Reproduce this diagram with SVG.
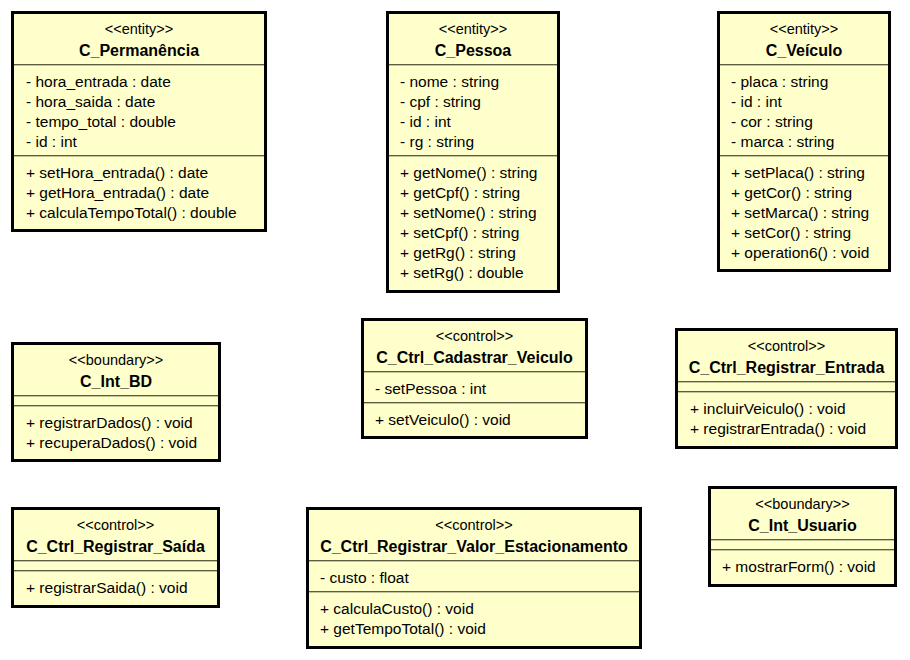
<svg xmlns="http://www.w3.org/2000/svg" width="910" height="660" viewBox="0 0 910 660">
<style>
.box{fill:#ffffcc;stroke:#000;stroke-width:3}
.sep{stroke:#5c5c40;stroke-width:1}
.sep2{stroke:#c4c49a;stroke-width:1}
.st{font-family:"Liberation Sans",Arial,sans-serif;font-size:14.5px;fill:#000;text-anchor:middle}
.nm{font-family:"Liberation Sans",Arial,sans-serif;font-size:16px;font-weight:bold;fill:#000;text-anchor:middle}
.mb{font-family:"Liberation Sans",Arial,sans-serif;font-size:15.5px;fill:#000}
</style>
<rect width="910" height="660" fill="#fff"/>
<g id="connectors"></g>

<g id="C_Permanencia">
<rect class="box" x="12.5" y="12.5" width="253" height="218"/>
<text class="st" x="139" y="34">&lt;&lt;entity&gt;&gt;</text>
<text class="nm" x="139" y="56">C_Permanência</text>
<line class="sep" x1="14" y1="64.5" x2="264" y2="64.5"/><line class="sep2" x1="14" y1="65.5" x2="264" y2="65.5"/>
<text class="mb" x="26" y="87">- hora_entrada : date</text>
<text class="mb" x="26" y="107">- hora_saida : date</text>
<text class="mb" x="26" y="127">- tempo_total : double</text>
<text class="mb" x="26" y="147">- id : int</text>
<line class="sep" x1="14" y1="155.5" x2="264" y2="155.5"/><line class="sep2" x1="14" y1="156.5" x2="264" y2="156.5"/>
<text class="mb" x="26" y="178">+ setHora_entrada() : date</text>
<text class="mb" x="26" y="198">+ getHora_entrada() : date</text>
<text class="mb" x="26" y="218">+ calculaTempoTotal() : double</text>
</g>

<g id="C_Pessoa">
<rect class="box" x="387.5" y="12.5" width="171" height="279"/>
<text class="st" x="473" y="34">&lt;&lt;entity&gt;&gt;</text>
<text class="nm" x="473" y="56">C_Pessoa</text>
<line class="sep" x1="389" y1="64.5" x2="557" y2="64.5"/><line class="sep2" x1="389" y1="65.5" x2="557" y2="65.5"/>
<text class="mb" x="400" y="87">- nome : string</text>
<text class="mb" x="400" y="107">- cpf : string</text>
<text class="mb" x="400" y="127">- id : int</text>
<text class="mb" x="400" y="147">- rg : string</text>
<line class="sep" x1="389" y1="155.5" x2="557" y2="155.5"/><line class="sep2" x1="389" y1="156.5" x2="557" y2="156.5"/>
<text class="mb" x="400" y="178">+ getNome() : string</text>
<text class="mb" x="400" y="198">+ getCpf() : string</text>
<text class="mb" x="400" y="218">+ setNome() : string</text>
<text class="mb" x="400" y="238">+ setCpf() : string</text>
<text class="mb" x="400" y="258">+ getRg() : string</text>
<text class="mb" x="400" y="278">+ setRg() : double</text>
</g>

<g id="C_Veiculo">
<rect class="box" x="718.5" y="12.5" width="171" height="258"/>
<text class="st" x="804" y="34">&lt;&lt;entity&gt;&gt;</text>
<text class="nm" x="804" y="56">C_Veículo</text>
<line class="sep" x1="720" y1="64.5" x2="888" y2="64.5"/><line class="sep2" x1="720" y1="65.5" x2="888" y2="65.5"/>
<text class="mb" x="731" y="87">- placa : string</text>
<text class="mb" x="731" y="107">- id : int</text>
<text class="mb" x="731" y="127">- cor : string</text>
<text class="mb" x="731" y="147">- marca : string</text>
<line class="sep" x1="720" y1="155.5" x2="888" y2="155.5"/><line class="sep2" x1="720" y1="156.5" x2="888" y2="156.5"/>
<text class="mb" x="731" y="178">+ setPlaca() : string</text>
<text class="mb" x="731" y="198">+ getCor() : string</text>
<text class="mb" x="731" y="218">+ setMarca() : string</text>
<text class="mb" x="731" y="238">+ setCor() : string</text>
<text class="mb" x="731" y="258">+ operation6() : void</text>
</g>

<g id="C_Int_BD">
<rect class="box" x="12.5" y="343.5" width="207" height="117"/>
<text class="st" x="116" y="365">&lt;&lt;boundary&gt;&gt;</text>
<text class="nm" x="116" y="387">C_Int_BD</text>
<line class="sep" x1="14" y1="395.5" x2="218" y2="395.5"/><line class="sep2" x1="14" y1="396.5" x2="218" y2="396.5"/>
<line class="sep" x1="14" y1="405.5" x2="218" y2="405.5"/><line class="sep2" x1="14" y1="406.5" x2="218" y2="406.5"/>
<text class="mb" x="26" y="428">+ registrarDados() : void</text>
<text class="mb" x="26" y="448">+ recuperaDados() : void</text>
</g>

<g id="C_Ctrl_Cadastrar_Veiculo">
<rect class="box" x="362.5" y="319.5" width="224" height="118"/>
<text class="st" x="474.5" y="341">&lt;&lt;control&gt;&gt;</text>
<text class="nm" x="474.5" y="363">C_Ctrl_Cadastrar_Veiculo</text>
<line class="sep" x1="364" y1="371.5" x2="585" y2="371.5"/><line class="sep2" x1="364" y1="372.5" x2="585" y2="372.5"/>
<text class="mb" x="375" y="394">- setPessoa : int</text>
<line class="sep" x1="364" y1="402.5" x2="585" y2="402.5"/><line class="sep2" x1="364" y1="403.5" x2="585" y2="403.5"/>
<text class="mb" x="375" y="425">+ setVeiculo() : void</text>
</g>

<g id="C_Ctrl_Registrar_Entrada">
<rect class="box" x="676.5" y="329.5" width="220" height="118"/>
<text class="st" x="786.5" y="351">&lt;&lt;control&gt;&gt;</text>
<text class="nm" x="786.5" y="373">C_Ctrl_Registrar_Entrada</text>
<line class="sep" x1="678" y1="381.5" x2="895" y2="381.5"/><line class="sep2" x1="678" y1="382.5" x2="895" y2="382.5"/>
<line class="sep" x1="678" y1="391.5" x2="895" y2="391.5"/><line class="sep2" x1="678" y1="392.5" x2="895" y2="392.5"/>
<text class="mb" x="690" y="414">+ incluirVeiculo() : void</text>
<text class="mb" x="690" y="434">+ registrarEntrada() : void</text>
</g>

<g id="C_Ctrl_Registrar_Saida">
<rect class="box" x="12.5" y="508.5" width="206" height="98"/>
<text class="st" x="115.5" y="530">&lt;&lt;control&gt;&gt;</text>
<text class="nm" x="115.5" y="552">C_Ctrl_Registrar_Saída</text>
<line class="sep" x1="14" y1="560.5" x2="217" y2="560.5"/><line class="sep2" x1="14" y1="561.5" x2="217" y2="561.5"/>
<line class="sep" x1="14" y1="570.5" x2="217" y2="570.5"/><line class="sep2" x1="14" y1="571.5" x2="217" y2="571.5"/>
<text class="mb" x="26" y="593">+ registrarSaida() : void</text>
</g>

<g id="C_Ctrl_Registrar_Valor_Estacionamento">
<rect class="box" x="307.5" y="508.5" width="333" height="139"/>
<text class="st" x="474" y="530">&lt;&lt;control&gt;&gt;</text>
<text class="nm" x="474" y="552">C_Ctrl_Registrar_Valor_Estacionamento</text>
<line class="sep" x1="309" y1="560.5" x2="639" y2="560.5"/><line class="sep2" x1="309" y1="561.5" x2="639" y2="561.5"/>
<text class="mb" x="320" y="583">- custo : float</text>
<line class="sep" x1="309" y1="591.5" x2="639" y2="591.5"/><line class="sep2" x1="309" y1="592.5" x2="639" y2="592.5"/>
<text class="mb" x="320" y="614">+ calculaCusto() : void</text>
<text class="mb" x="320" y="634">+ getTempoTotal() : void</text>
</g>

<g id="C_Int_Usuario">
<rect class="box" x="709.5" y="487.5" width="186" height="98"/>
<text class="st" x="802.5" y="509">&lt;&lt;boundary&gt;&gt;</text>
<text class="nm" x="802.5" y="531">C_Int_Usuario</text>
<line class="sep" x1="711" y1="539.5" x2="894" y2="539.5"/><line class="sep2" x1="711" y1="540.5" x2="894" y2="540.5"/>
<line class="sep" x1="711" y1="549.5" x2="894" y2="549.5"/><line class="sep2" x1="711" y1="550.5" x2="894" y2="550.5"/>
<text class="mb" x="722" y="572">+ mostrarForm() : void</text>
</g>
</svg>
